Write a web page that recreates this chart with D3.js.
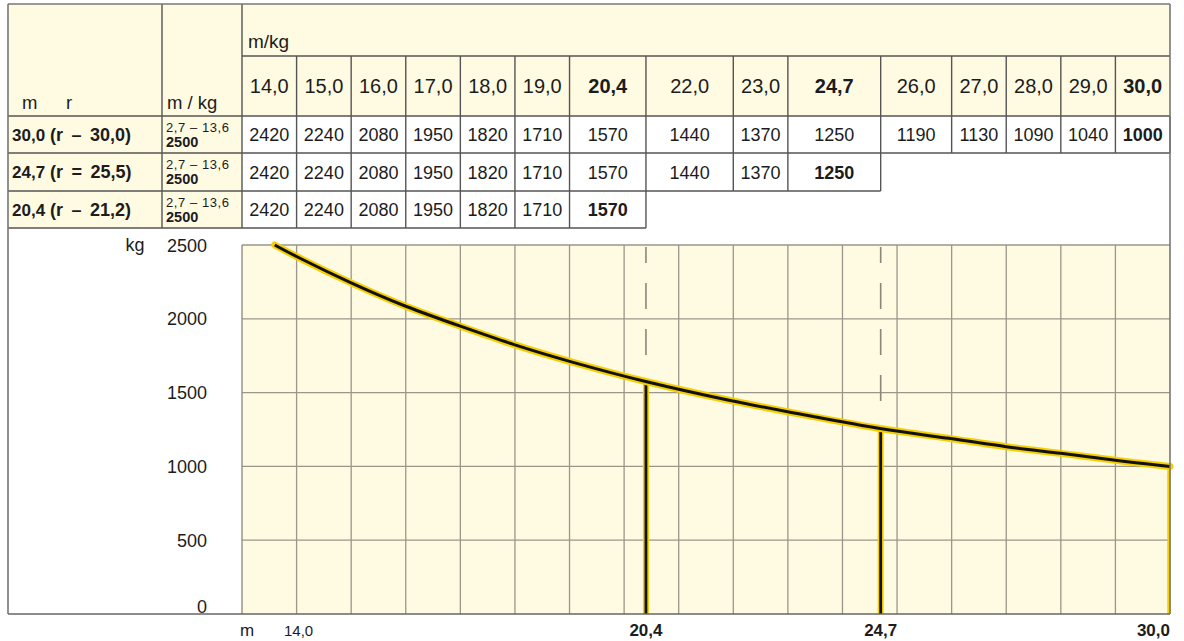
<!DOCTYPE html>
<html><head><meta charset="utf-8">
<script src="https://cdn.jsdelivr.net/npm/d3@7"></script>
<style>
body{margin:0;background:#fff;}
text{font-family:"Liberation Sans",Arial,Helvetica,sans-serif;fill:#1c1c1c;}
</style>
</head><body>
<svg id="c" width="1184" height="641"></svg>
<script>
// ---------- data ----------
const distances = [14.0,15.0,16.0,17.0,18.0,19.0,20.4,22.0,23.0,24.7,26.0,27.0,28.0,29.0,30.0];
const loads     = [2420,2240,2080,1950,1820,1710,1570,1440,1370,1250,1190,1130,1090,1040,1000];
const boomLengths = [30.0, 24.7, 20.4];
const rowRadius   = ["(r – 30,0)", "(r = 25,5)", "(r – 21,2)"];
const maxLoadRange = "2,7 – 13,6";
const maxLoad = 2500;
const maxLoadEnd = 13.6;
const yTicks = [0, 500, 1000, 1500, 2000, 2500];
const xAxisLabels = [14.0, 20.4, 24.7, 30.0];
const boldDistances = [20.4, 24.7, 30.0];
const xDomain = [13, 30];

// ---------- layout ----------
const svg = d3.select("#c");
const L = 8, T = 4, R = 1170, B = 614;
const col1 = 162, col2 = 242;
const rH = [4, 56, 116];            // header row lines
const dR = [116, 153, 191, 228];    // data row lines
const plotTop = 245;
const cream = "#fffae2";
const lineCol = "#555";
const fmt = v => d3.format(".1f")(v).replace(".", ",");

const x = d3.scaleLinear().domain(xDomain).range([col2, R]);
const y = d3.scaleLinear().domain([0, maxLoad]).range([B, plotTop]);
const edges = [xDomain[0], ...distances];

// backgrounds
svg.append("rect").attr("x", L).attr("y", T).attr("width", R - L).attr("height", rH[2] - T).attr("fill", cream);
svg.append("rect").attr("x", L).attr("y", dR[0]).attr("width", col2 - L).attr("height", dR[3] - dR[0]).attr("fill", cream);
svg.append("rect").attr("x", x(xDomain[0])).attr("y", y(maxLoad)).attr("width", x(xDomain[1]) - x(xDomain[0]))
  .attr("height", y(0) - y(maxLoad)).attr("fill", cream);

// grid
const g = svg.append("g");
g.selectAll(".vg").data(d3.range(14, 30)).join("line")
  .attr("x1", d => x(d)).attr("x2", d => x(d)).attr("y1", y(maxLoad)).attr("y2", y(0))
  .attr("stroke", "#9a978a").attr("stroke-width", 1.3);
g.selectAll(".hg").data(yTicks.filter(t => t > 0 && t < maxLoad)).join("line")
  .attr("x1", x(xDomain[0])).attr("x2", x(xDomain[1])).attr("y1", d => y(d)).attr("y2", d => y(d))
  .attr("stroke", "#9a978a").attr("stroke-width", 1.3);
g.append("line").attr("x1", x(xDomain[0])).attr("x2", x(xDomain[1])).attr("y1", y(maxLoad)).attr("y2", y(maxLoad))
  .attr("stroke", "#9a978a").attr("stroke-width", 1.3);
g.append("line").attr("x1", x(xDomain[0])).attr("x2", x(xDomain[0])).attr("y1", y(maxLoad)).attr("y2", y(0))
  .attr("stroke", "#8a877a").attr("stroke-width", 1.3);

const loadAt = m => loads[distances.indexOf(m)];

// dashed guides
const inner = boomLengths.filter(b => b < xDomain[1]);
g.selectAll(".dash").data(inner).join("line")
  .attr("x1", d => x(d)).attr("x2", d => x(d)).attr("y1", y(maxLoad) + 2).attr("y2", d => y(loadAt(d)) - 20)
  .attr("stroke", "#8a877a").attr("stroke-width", 1.6).attr("stroke-dasharray", "26 20").attr("stroke-dashoffset", 10);

// solid verticals
g.selectAll(".vy").data(inner).join("line")
  .attr("x1", d => x(d)).attr("x2", d => x(d)).attr("y1", d => y(loadAt(d))).attr("y2", y(0))
  .attr("stroke", "#f5cf00").attr("stroke-width", 6);
g.selectAll(".vb").data(inner).join("line")
  .attr("x1", d => x(d)).attr("x2", d => x(d)).attr("y1", d => y(loadAt(d))).attr("y2", y(0))
  .attr("stroke", "#111").attr("stroke-width", 2.8);
g.append("line").attr("x1", x(xDomain[1]) - 1).attr("x2", x(xDomain[1]) - 1).attr("y1", y(loadAt(30.0))).attr("y2", y(0))
  .attr("stroke", "#f5cf00").attr("stroke-width", 3.5);

// curve
const pts = [[maxLoadEnd, maxLoad], ...distances.map((d, i) => [d, loads[i]])];
const line = d3.line().x(d => x(d[0])).y(d => y(d[1])).curve(d3.curveBasis);
g.append("path").attr("d", line(pts)).attr("fill", "none").attr("stroke", "#f5cf00").attr("stroke-width", 7).attr("stroke-linecap", "round");
g.append("path").attr("d", line(pts)).attr("fill", "none").attr("stroke", "#111").attr("stroke-width", 3);

// ---------- table ----------
const t = svg.append("g");
const hl = (x1, x2, yy) => t.append("line").attr("x1", x1).attr("x2", x2).attr("y1", yy).attr("y2", yy).attr("stroke", lineCol).attr("stroke-width", 1.4);
const vl = (xx, y1, y2) => t.append("line").attr("x1", xx).attr("x2", xx).attr("y1", y1).attr("y2", y2).attr("stroke", lineCol).attr("stroke-width", 1.4);

hl(col2, R, rH[1]);
hl(L, R, rH[2]);
boomLengths.forEach((b, r) => { hl(L, x(b), dR[r + 1]); });
vl(col1, T, dR[3]);
vl(col2, T, dR[3]);
distances.slice(0, -1).forEach(d => vl(x(d), rH[1], rH[2]));
boomLengths.forEach((b, r) => {
  distances.filter(d => d < b).forEach(d => vl(x(d), dR[r], dR[r + 1]));
  vl(x(b), dR[r], dR[r + 1]);
});

// header texts
t.append("text").attr("x", 248).attr("y", 48).attr("font-size", 19).text("m/kg");
t.append("text").attr("x", 22).attr("y", 109).attr("font-size", 18.5).text("m");
t.append("text").attr("x", 66).attr("y", 109).attr("font-size", 18.5).text("r");
t.append("text").attr("x", 167).attr("y", 109).attr("font-size", 18.5).text("m / kg");
t.selectAll(".hd").data(distances).join("text")
  .attr("x", (d, i) => (x(edges[i]) + x(edges[i + 1])) / 2).attr("y", 93)
  .attr("text-anchor", "middle").attr("font-size", 20)
  .attr("font-weight", d => boldDistances.includes(d) ? "bold" : "normal")
  .text(d => fmt(d));

// data rows
boomLengths.forEach((b, r) => {
  const cy = (dR[r] + dR[r + 1]) / 2;
  t.append("text").attr("x", 12).attr("y", cy + 6).attr("font-size", 17).attr("font-weight", "bold").text(fmt(b));
  t.append("text").attr("x", 50).attr("y", cy + 6).attr("font-size", 18).attr("font-weight", "bold")
    .attr("word-spacing", 3.5).text(rowRadius[r]);
  t.append("text").attr("x", 166).attr("y", cy - 3).attr("font-size", 13).attr("textLength", 63).attr("lengthAdjust", "spacing").text(maxLoadRange);
  t.append("text").attr("x", 166).attr("y", cy + 12).attr("font-size", 14.5).attr("font-weight", "bold").text(maxLoad);
  distances.forEach((d, i) => {
    if (d > b) return;
    t.append("text").attr("x", (x(edges[i]) + x(edges[i + 1])) / 2).attr("y", cy + 6.5)
      .attr("text-anchor", "middle").attr("font-size", 18)
      .attr("font-weight", d === b ? "bold" : "normal")
      .text(loads[i]);
  });
});

// ---------- axis labels ----------
const a = svg.append("g");
svg.append("clipPath").attr("id", "yclip").append("rect").attr("x", 0).attr("y", 237).attr("width", 240).attr("height", 400);
const yl = a.append("g").attr("clip-path", "url(#yclip)");
yl.selectAll("text").data(yTicks).join("text")
  .attr("x", 207).attr("y", d => d === 0 ? y(d) - 1 : y(d) + 6.5)
  .attr("text-anchor", "end").attr("font-size", 18).text(d => d);
a.append("text").attr("x", 135).attr("y", y(maxLoad) + 6).attr("text-anchor", "middle").attr("font-size", 18).text("kg");
a.append("text").attr("x", 240).attr("y", 636).attr("font-size", 17).text("m");
a.selectAll(".xl").data(xAxisLabels).join("text")
  .attr("x", d => d === xDomain[1] ? x(d) : x(d) + (boldDistances.includes(d) ? 0 : 2))
  .attr("y", 636)
  .attr("text-anchor", d => d === xDomain[1] ? "end" : "middle")
  .attr("font-size", d => boldDistances.includes(d) ? 17 : 15)
  .attr("font-weight", d => boldDistances.includes(d) ? "bold" : "normal")
  .text(d => fmt(d));

// ---------- frame ----------
svg.append("line").attr("x1", L).attr("x2", R).attr("y1", B).attr("y2", B).attr("stroke", "#666").attr("stroke-width", 1.6);
svg.append("line").attr("x1", L).attr("x2", L).attr("y1", T).attr("y2", B).attr("stroke", "#777").attr("stroke-width", 1.6);
svg.append("line").attr("x1", R).attr("x2", R).attr("y1", T).attr("y2", B).attr("stroke", "#777").attr("stroke-width", 1.6);
svg.append("line").attr("x1", L).attr("x2", R).attr("y1", T).attr("y2", T).attr("stroke", "#777").attr("stroke-width", 1.6);
</script>
</body></html>
